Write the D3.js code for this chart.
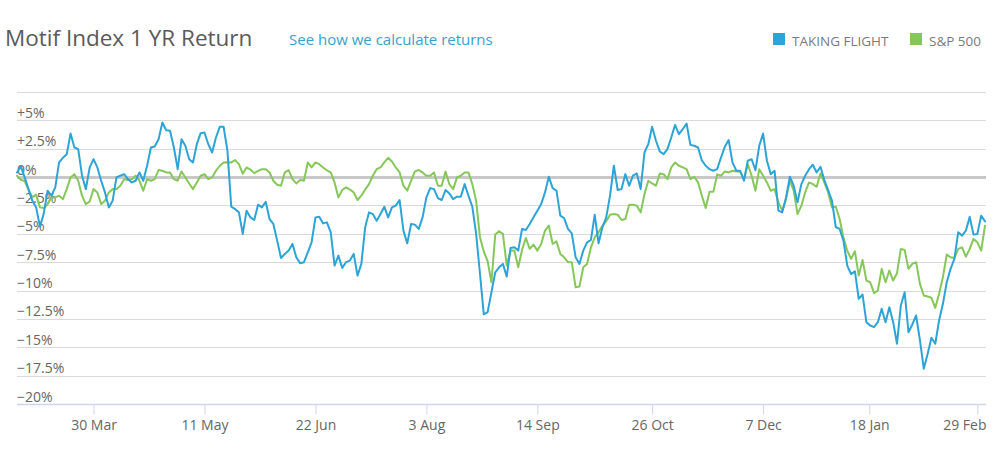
<!DOCTYPE html>
<html><head><meta charset="utf-8">
<script src="https://cdn.jsdelivr.net/npm/d3@7"></script>
<style>
html,body{margin:0;padding:0;background:#fff;}
svg{display:block;font-family:"Open Sans",sans-serif;}
</style></head><body>
<svg id="chart" width="1008" height="453"></svg>
<script>
// ---------- data ----------
const startDate = "2015-03-02";
const endDate = "2016-03-02";
const marketHolidays = ["2015-04-03","2015-05-25","2015-07-03","2015-09-07","2015-11-26","2015-12-25","2016-01-01","2016-01-18","2016-02-15"];
const tickDates = ["2015-03-30","2015-05-11","2015-06-22","2015-08-03","2015-09-14","2015-10-26","2015-12-07","2016-01-18","2016-02-29"];
const yTickValues = [7.5, 5, 2.5, 0, -2.5, -5, -7.5, -10, -12.5, -15, -17.5, -20];
const yTickLabels = ["", "+5%", "+2.5%", "0%", "\u22122.5%", "\u22125%", "\u22127.5%", "\u221210%", "\u221212.5%", "\u221215%", "\u221217.5%", "\u221220%"];
const seriesNames = ["TAKING FLIGHT", "S&P 500"];
const seriesColors = ["#2da4d7", "#86c75a"];

// one value per trading day (% return)
const takingFlight = [
 0.41, 0.94, -0.03, -1.06, -2.08, -2.67, -4.37, -3.2, -1.2, -1.64,
 -0.91, 1.29, 1.7, 2.02, 3.84, 2.61, 2.46, 0.12, -1.06, 0.85,
 1.58, 0.85, -0.32, -1.35, -2.67, -2.08, -0.03, 0.12, 0.26, -0.18,
 -0.47, -0.32, 0.41, -0.32, 1.0, 2.61, 2.7, 3.34, 4.81, 4.13,
 4.08, 2.61, 0.7, 3.34, 2.76, 1.58, 1.29, 2.9, 3.87, 3.93,
 2.9, 2.17, 3.49, 4.43, 4.43, 2.32, -2.61, -2.82, -3.11, -5.01,
 -2.96, -3.55, -3.78, -2.43, -2.67, -2.17, -3.7, -4.13, -5.6, -7.13,
 -6.77, -6.48, -5.89, -7.07, -7.6, -7.5, -6.63, -5.75, -3.55, -3.49,
 -4.08, -3.99, -4.87, -7.8, -6.92, -8.0, -7.5, -7.36, -6.77, -8.68,
 -7.65, -4.43, -3.11, -3.26, -3.84, -3.26, -2.61, -3.55, -2.67, -2.52,
 -2.02, -4.72, -5.84, -4.13, -4.19, -4.57, -3.55, -1.79, -0.97, -1.06,
 -1.85, -2.02, -1.14, -1.44, -1.94, -1.73, -1.73, -0.62, -1.64, -2.61,
 -5.0, -8.5, -12.1, -11.9, -10.15, -8.39, -7.95, -7.65, -8.77, -6.25,
 -6.19, -6.48, -4.57, -4.66, -4.13, -3.55, -2.96, -2.38, -1.35, 0.03,
 -0.97, -1.2, -3.4, -3.61, -4.57, -4.96, -7.07, -7.65, -6.48, -5.75,
 -5.54, -3.31, -5.84, -4.43, -3.55, -1.64, 1.0, -1.14, -1.06, 0.26,
 -0.76, 0.12, 0.32, -1.06, 2.17, 2.9, 4.43, 3.2, 2.26, 2.02,
 2.46, 3.49, 4.6, 3.78, 4.22, 4.72, 2.84, 2.76, 2.61, 1.47,
 1.0, 0.7, 0.56, 0.7, 1.73, 2.67, 3.26, 1.29, 0.56, 0.56,
 -0.32, 1.44, 1.58, 0.6, 2.76, 3.84, 1.44, 0.26, 0.55, -2.96,
 -3.11, -1.79, 0.03, -0.76, -2.23, -0.62, 0.12, 0.7, 1.09, 0.41,
 0.91, -0.26, -1.14, -2.08, -4.4, -4.57, -5.6, -7.8, -8.55, -8.3,
 -10.73, -10.35, -12.79, -13.08, -13.23, -12.79, -11.61, -12.79, -11.47, -12.79,
 -14.69, -11.32, -10.15, -13.67, -12.99, -12.2, -14.4, -16.89, -15.6, -14.16,
 -14.69, -12.64, -11.17, -9.27, -8.09, -7.2, -4.87, -5.16, -4.72, -3.49,
 -5.07, -5.01, -3.4, -3.9
];
const sp500 = [
 0.12, -0.23, -0.35, -1.1, -1.79, -1.55, -2.67, -2.73, -2.4, -1.79,
 -1.79, -1.64, -1.94, -1.06, -0.03, 0.26, -0.32, -1.64, -2.38, -2.15,
 -1.06, -1.35, -2.38, -2.08, -1.35, -1.06, -1.06, -0.76, -0.18, -0.26,
 -0.18, 0.12, -0.32, -1.2, -0.18, -0.32, -0.18, 0.62, 0.56, 0.41,
 0.41, -0.18, -0.32, 0.5, -0.03, -0.56, -1.06, -0.47, 0.12, 0.26,
 -0.18, -0.03, 0.56, 1.0, 1.29, 1.3, 1.29, 1.5, 1.14, 0.3,
 0.85, 0.66, 0.35, 0.55, 0.7, 0.7, 0.41, -0.32, -0.67, -0.76,
 0.41, 0.62, -0.18, -0.56, -0.26, -0.32, 1.29, 0.85, 1.29, 1.14,
 0.85, 0.6, 0.41, -0.47, -1.79, -1.14, -0.91, -1.1, -1.35, -2.02,
 -1.64, -1.1, -0.62, 0.12, 0.7, 0.85, 1.29, 1.7, 1.38, 0.85,
 0.41, -0.76, -1.2, -0.32, 0.5, 0.62, 0.41, 0.12, 0.12, 0.41,
 -0.76, -0.76, 0.5, -0.62, -1.06, -0.03, 0.12, 0.41, 0.41, -0.62,
 -2.08, -5.3, -6.55, -7.4, -9.27, -5.07, -4.78, -5.01, -7.8, -6.48,
 -6.48, -7.95, -6.42, -5.37, -6.33, -5.95, -6.48, -5.89, -4.72, -4.28,
 -5.89, -5.66, -6.77, -7.07, -7.5, -7.5, -9.71, -9.65, -7.95, -7.65,
 -6.19, -5.31, -4.87, -4.28, -3.9, -3.31, -3.26, -3.31, -3.78, -3.7,
 -2.43, -2.43, -2.52, -3.11, -1.5, -0.32, -0.56, -0.76, 0.32, 0.26,
 -0.18, 0.85, 1.29, 1.0, 0.85, 0.7, -0.18, 0.03, -0.47, -1.64,
 -2.73, -1.3, -1.3, 0.24, 0.12, 0.5, 0.41, 0.56, 0.5, 0.5,
 -0.18, 1.14, 0.12, -1.2, 0.7, 0.12, -0.47, -1.2, -1.06, -2.23,
 -2.96, -1.94, -0.32, -1.2, -3.26, -2.52, -1.35, -0.47, -0.62, -0.85,
 0.32, -0.47, -1.35, -2.67, -2.61, -3.7, -5.31, -6.48, -7.21, -6.54,
 -8.68, -7.3, -9.12, -9.27, -10.23, -10.0, -8.09, -9.27, -8.24, -9.12,
 -8.47, -6.33, -6.42, -8.09, -7.65, -7.5, -9.41, -10.44, -10.53, -10.64,
 -11.52, -10.29, -8.83, -6.83, -7.07, -7.13, -6.33, -6.19, -7.01, -6.33,
 -5.45, -5.75, -6.48, -4.28
];

// ---------- trading calendar (ordinal x axis) ----------
const parse = d3.utcParse("%Y-%m-%d");
const fmtISO = d3.utcFormat("%Y-%m-%d");
const holidaySet = new Set(marketHolidays);
const tradingDays = d3.utcDays(parse(startDate), d3.utcDay.offset(parse(endDate), 1))
  .filter(d => d.getUTCDay() !== 0 && d.getUTCDay() !== 6 && !holidaySet.has(fmtISO(d)));

function ordinalIndex(date) {
  const i = d3.bisectLeft(tradingDays, date);
  if (i < tradingDays.length && +tradingDays[i] === +date) return i;
  const a = tradingDays[i - 1], b = tradingDays[i];
  return (i - 1) + (date - a) / (b - a);
}

// ---------- layout ----------
const svg = d3.select("#chart");
const W = 1008, H = 453;
const plotLeft = 17, plotRight = 986, plotTop = 92, plotBottom = 404;

const x = d3.scaleLinear().domain([0, tradingDays.length - 1]).range([plotLeft, plotRight - 1]);
const y = d3.scaleLinear().domain([-20, 7.5]).range([plotBottom, plotTop]);

// title
svg.append("text").attr("x", 5).attr("y", 46)
  .attr("font-size", 22.5).attr("fill", "#5a5a5a").text("Motif Index 1 YR Return");
svg.append("text").attr("x", 289).attr("y", 45)
  .attr("font-size", 15).attr("fill", "#3aa0c9").text("See how we calculate returns");

// legend
const legX = [773, 910];
seriesNames.forEach((name, i) => {
  svg.append("rect").attr("x", legX[i]).attr("y", 33).attr("width", 12).attr("height", 12)
    .attr("fill", seriesColors[i]);
  svg.append("text").attr("x", legX[i] + 19).attr("y", 46)
    .attr("font-size", 13.5).attr("fill", "#7a7a7a").text(name);
});

// grid lines
const grid = svg.append("g");
yTickValues.forEach((v, i) => {
  if (v === -20) return;
  const yy = Math.round(y(v)) + 0.5;
  grid.append("line").attr("x1", plotLeft).attr("x2", plotRight)
    .attr("y1", yy).attr("y2", yy)
    .attr("stroke", v === 0 ? "#c8c8c8" : "#dadada")
    .attr("stroke-width", v === 0 ? 3 : 1);
});

// x axis
const tickIdx = tickDates.map(s => ordinalIndex(parse(s)));
const fmtTick = d3.utcFormat("%-d %b");
const xAxis = d3.axisBottom(x).tickValues(tickIdx)
  .tickFormat((d, i) => fmtTick(parse(tickDates[i])))
  .tickSize(10).tickSizeOuter(0);
const gx = svg.append("g").attr("transform", `translate(0,${Math.round(plotBottom) + 0.5})`).call(xAxis);
gx.select(".domain").attr("stroke", "#ccd6eb").attr("stroke-width", 1.5)
  .attr("d", `M${plotLeft},0H${plotRight}`);
gx.selectAll(".tick line").attr("stroke", "#ccd6eb");
gx.selectAll(".tick text").attr("y", 25).attr("dy", 0)
  .attr("font-size", 14).attr("font-family", "Open Sans, sans-serif").attr("fill", "#666");
gx.selectAll(".tick").each(function(d) {
  const t = d3.select(this).select("text");
  const w = t.node().getComputedTextLength();
  const cx = x(d);
  if (cx + w / 2 > plotRight) t.attr("x", plotRight - w / 2 - cx);
});

// y labels
const yl = svg.append("g");
yTickValues.forEach((v, i) => {
  if (!yTickLabels[i]) return;
  yl.append("text").attr("x", plotLeft).attr("y", y(v) - 2.5)
    .attr("font-size", 14).attr("fill", "#666").text(yTickLabels[i]);
});

// lines
const line = d3.line().x((d, i) => x(i)).y(d => y(d));
svg.append("path").datum(sp500).attr("d", line)
  .attr("fill", "none").attr("stroke", seriesColors[1]).attr("stroke-width", 2)
  .attr("stroke-linejoin", "round").attr("stroke-linecap", "round");
svg.append("path").datum(takingFlight).attr("d", line)
  .attr("fill", "none").attr("stroke", seriesColors[0]).attr("stroke-width", 2)
  .attr("stroke-linejoin", "round").attr("stroke-linecap", "round");
</script>
</body></html>
